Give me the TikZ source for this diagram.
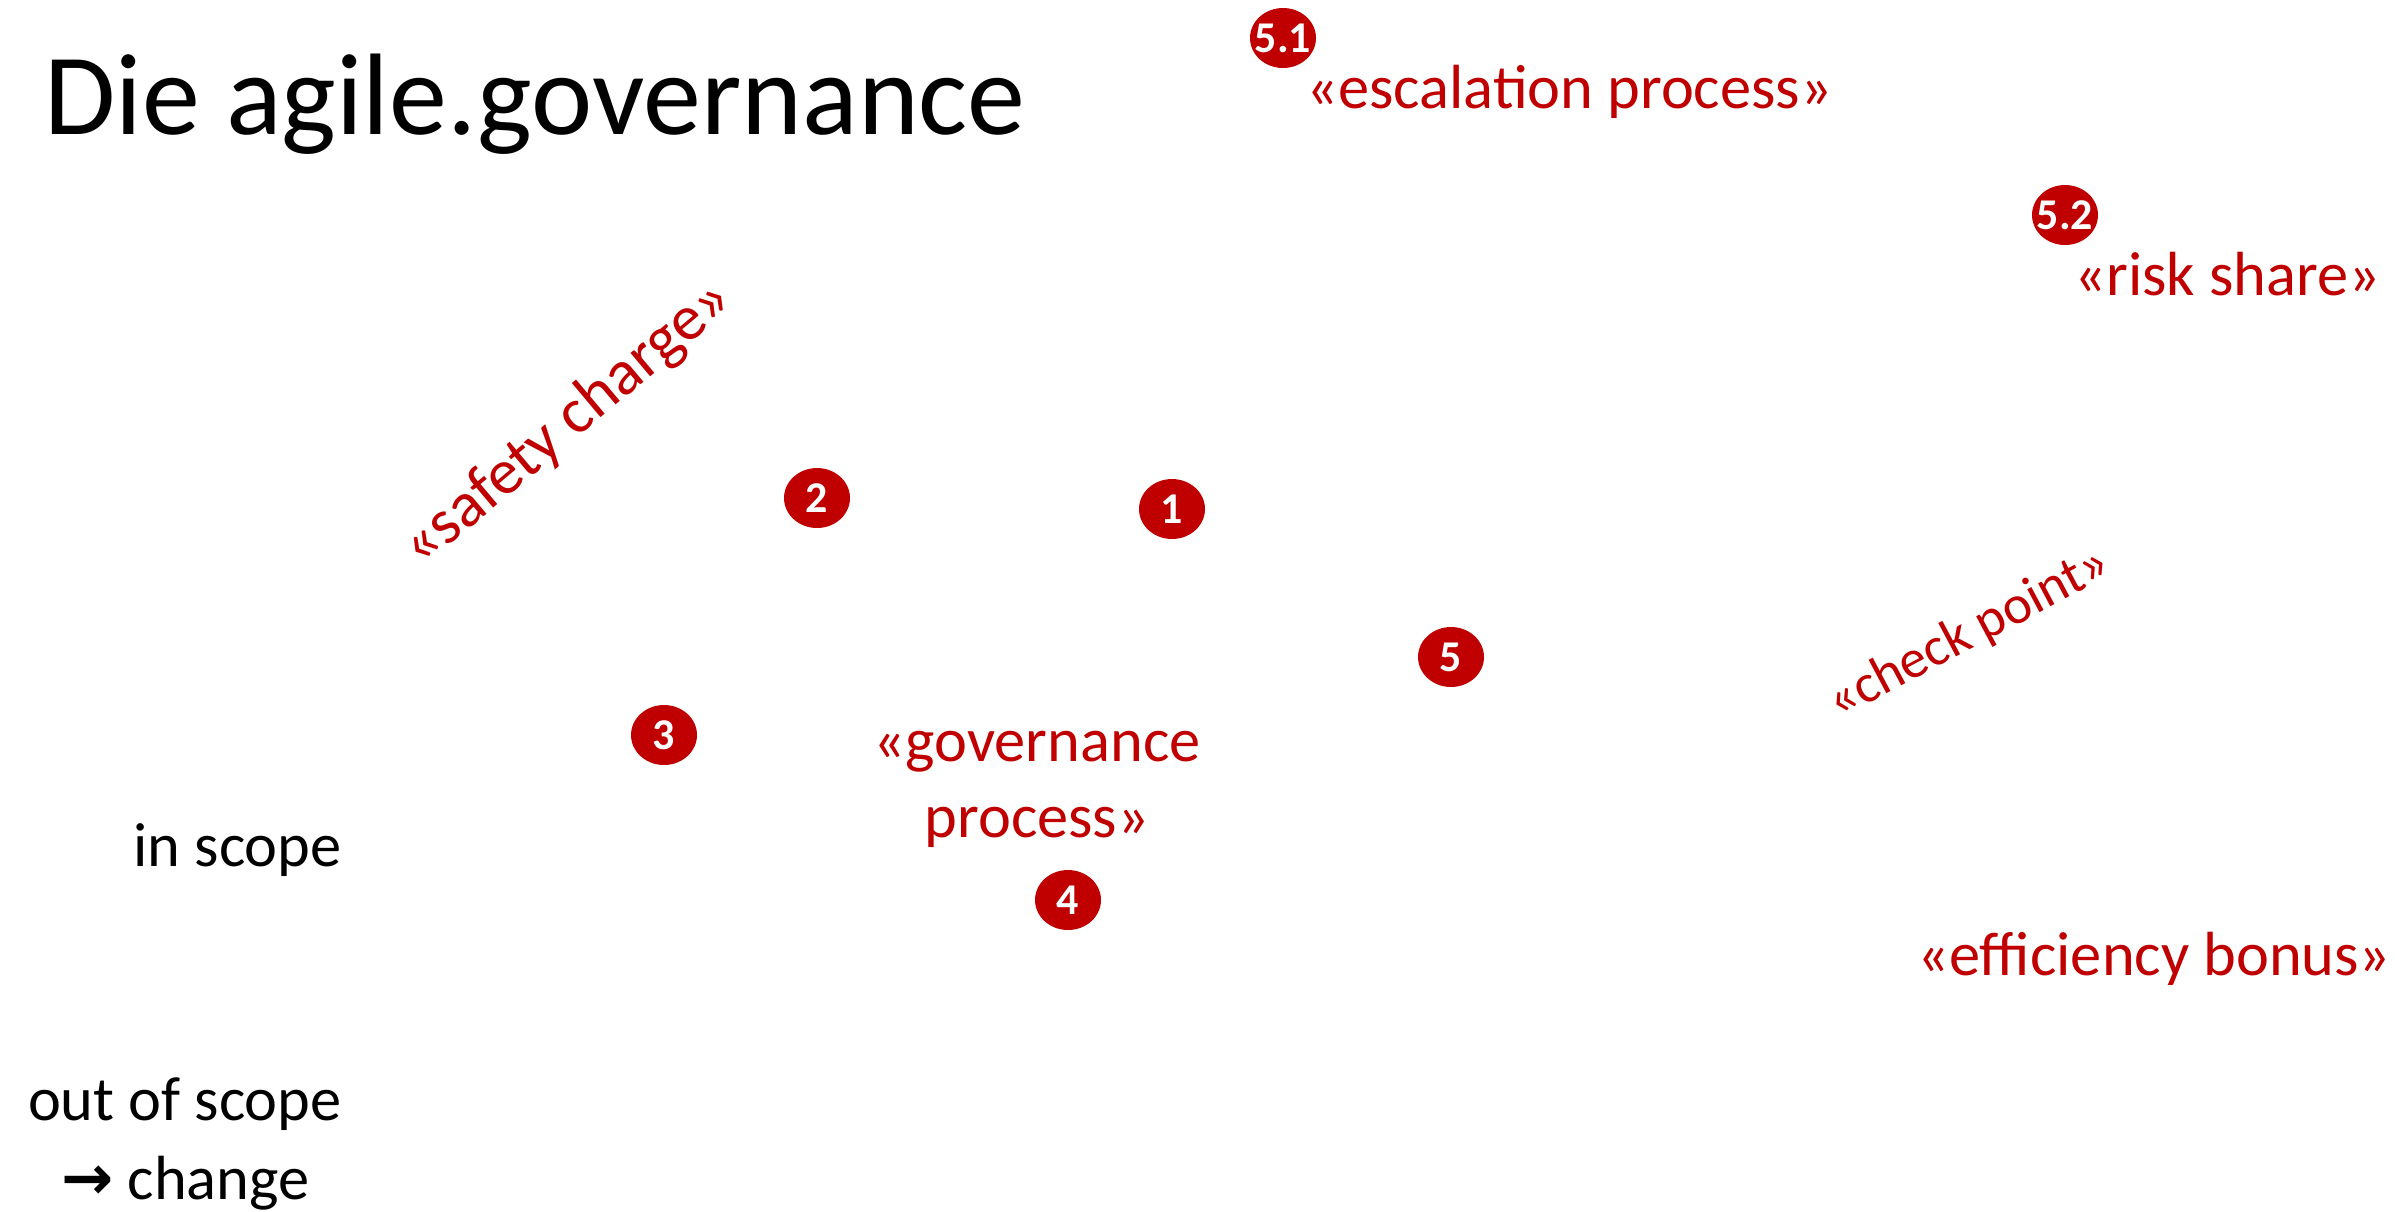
\documentclass[tikz,border=0pt]{standalone}
\usepackage{fontspec}
\setmainfont{Carlito}
\newfontfamily\arrowfont{DejaVu Sans}
\usetikzlibrary{shapes.geometric}
\definecolor{dred}{HTML}{C00000}
\newcommand{\badgetext}[1]{\makebox[0pt]{#1}}
\begin{document}
\begin{tikzpicture}[x=0.02cm,y=-0.02cm,
  badge/.style={ellipse, fill=dred, text=white, inner sep=0pt,
    minimum width=1.32cm, minimum height=1.2cm,
    font=\fontsize{25}{25}\selectfont\bfseries},
  redlab/.style={text=dred, inner sep=0pt, font=\fontsize{35.5}{43}\selectfont},
  blacklab/.style={text=black, inner sep=0pt, font=\fontsize{35.5}{43}\selectfont},
  titlestyle/.style={text=black, inner sep=0pt, font=\fontsize{66}{70}\selectfont}]
\path[use as bounding box, fill=white] (0,0) rectangle (2395,1211);

\node[titlestyle, anchor=base west] (title) at (44,134) {Die agile.governance};

% badges
\node[badge] (b51) at (1283,38) {\badgetext{5.1}};
\node[badge] (b52) at (2065,215) {\badgetext{5.2}};
\node[badge] (b2) at (817,498) {\badgetext{2}};
\node[badge] (b1) at (1172,509) {\badgetext{1}};
\node[badge] (b5) at (1451,657) {\badgetext{5}};
\node[badge] (b3) at (664,735) {\badgetext{3}};
\node[badge] (b4) at (1068,900) {\badgetext{4}};

% red labels
\node[redlab, anchor=base west] (esc) at (1306,108) {«escalation process»};
\node[redlab, anchor=base west] (risk) at (2074,295) {«risk share»};
\node[redlab, rotate=40, font=\fontsize{36.5}{43}\selectfont] (safety) at (568,424) {«safety charge»};
\node[redlab, rotate=28, font=\fontsize{31}{36}\selectfont] (check) at (1969,634) {«check point»};
\node[redlab, anchor=base] (gov1) at (1037,761) {«governance};
\node[redlab, anchor=base] (gov2) at (1037,837) {process»};
\node[redlab, anchor=base west] (eff) at (1917,975) {«efficiency bonus»};

% black labels
\node[blacklab, anchor=base east] (insc) at (342,866) {in scope};
\node[blacklab, anchor=base east] (outsc) at (342,1120) {out of scope};
\node[blacklab, anchor=base west] (chg) at (61,1199) {{\arrowfont\bfseries →} change};
\end{tikzpicture}
\end{document}
